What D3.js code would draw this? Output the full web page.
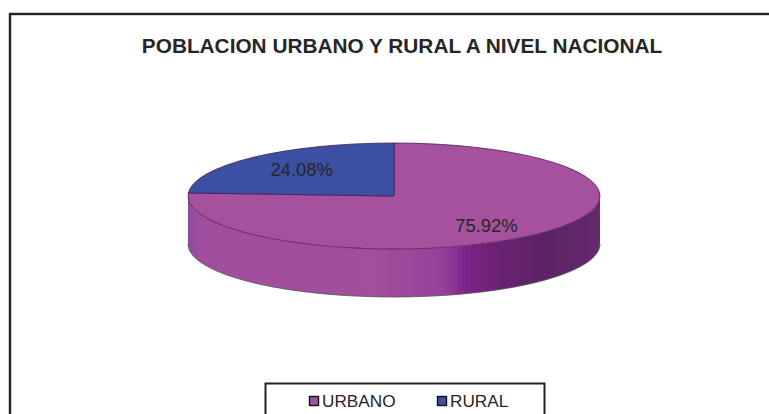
<!DOCTYPE html>
<html>
<head>
<meta charset="utf-8">
<script src="https://cdn.jsdelivr.net/npm/d3@7"></script>
<style>
  html, body { margin: 0; padding: 0; background: #fff; }
  svg { display: block; }
  text { font-family: "Liberation Sans", Arial, sans-serif; fill: #262626; }
</style>
</head>
<body>
<div id="chart"></div>
<script>
const chartTitle = "POBLACION URBANO Y RURAL A NIVEL NACIONAL";
const categories = ["URBANO", "RURAL"];
const values = [75.92, 24.08];
const sliceColors = ["#a5519e", "#3a50a3"];

const width = 769, height = 414;
const cx = 394, cy = 196, rx = 206, ry = 53, depth = 48;

const svg = d3.select("#chart").append("svg")
  .attr("width", width).attr("height", height);

const defs = svg.append("defs");
defs.append("filter").attr("id", "soft")
  .append("feGaussianBlur").attr("stdDeviation", 0.35);

// side wall shading, left to right
const wallGrad = defs.append("linearGradient").attr("id", "wall-grad");
[[0, "#8f4a9e"], [0.03, "#a04f9e"], [0.45, "#a24f9c"], [0.62, "#94409a"],
 [0.68, "#7c2189"], [0.74, "#6c2473"], [0.88, "#5a2464"], [1, "#652a6c"]]
  .forEach(([o, c]) => wallGrad.append("stop").attr("offset", o).attr("stop-color", c));

// outer frame, runs off the right and bottom of the picture
svg.append("rect")
  .attr("x", 10).attr("y", 14).attr("width", 780).attr("height", 440)
  .attr("fill", "none").attr("stroke", "#222").attr("stroke-width", 2.4);

svg.append("text")
  .attr("x", 402).attr("y", 53)
  .attr("text-anchor", "middle")
  .attr("font-size", 20.8).attr("font-weight", 700)
  .text(chartTitle);

const pie = d3.pie().sort(null).value((d) => d);
const slices = pie(values);
const arc = d3.arc().innerRadius(0).outerRadius(rx);
const labelArc = d3.arc().innerRadius(rx * 0.66).outerRadius(rx * 0.66);

const gPie = svg.append("g").attr("filter", "url(#soft)");

// wall: lower half of the ellipse pushed down by depth
const edge = d3.range(0, 181, 3).map((a) => {
  const t = a * Math.PI / 180;
  return [cx + rx * Math.cos(t), cy + ry * Math.sin(t)];
});
const wall = edge.map(([x, y]) => [x, y + depth]).concat(edge.slice().reverse());
gPie.append("path")
  .attr("d", d3.line()(wall) + "Z")
  .attr("fill", "url(#wall-grad)");
gPie.append("path")
  .attr("d", d3.line()(edge.map(([x, y]) => [x, y + depth])))
  .attr("fill", "none").attr("stroke", "#555").attr("stroke-width", 0.8);

// top face, a flat pie squashed into an ellipse
const gTop = gPie.append("g")
  .attr("transform", `translate(${cx},${cy}) scale(1,${ry / rx})`);
gTop.selectAll("path.slice")
  .data(slices)
  .join("path")
  .attr("class", "slice")
  .attr("d", arc)
  .attr("fill", (d, i) => sliceColors[i])
  .attr("stroke", "#4a1a55")
  .attr("stroke-width", 0.8)
  .attr("vector-effect", "non-scaling-stroke");

svg.selectAll("text.pct")
  .data(slices)
  .join("text")
  .attr("class", "pct")
  .attr("text-anchor", "middle")
  .attr("dy", "0.42em")
  .attr("font-size", 18.4)
  .attr("x", (d) => cx + labelArc.centroid(d)[0] * 0.99)
  .attr("y", (d) => cy + labelArc.centroid(d)[1] * ry / rx * 1.1)
  .text((d) => d.value.toFixed(2) + "%");

// legend
svg.append("rect")
  .attr("x", 265.5).attr("y", 383.5).attr("width", 279).attr("height", 60)
  .attr("fill", "#fff").attr("stroke", "#222").attr("stroke-width", 2);

const legendX = d3.scalePoint().domain(categories).range([309, 437]);
const legendItem = svg.selectAll("g.legend-item")
  .data(categories)
  .join("g")
  .attr("class", "legend-item")
  .attr("transform", (d) => `translate(${legendX(d)},396)`);
legendItem.append("rect")
  .attr("x", 0.5).attr("y", 0.5).attr("width", 9).attr("height", 9)
  .attr("fill", (d, i) => sliceColors[i])
  .attr("stroke", "#111").attr("stroke-width", 1.4);
legendItem.append("text")
  .attr("x", 13).attr("y", 11)
  .attr("font-size", 17.2)
  .text((d) => d);
</script>
</body>
</html>
